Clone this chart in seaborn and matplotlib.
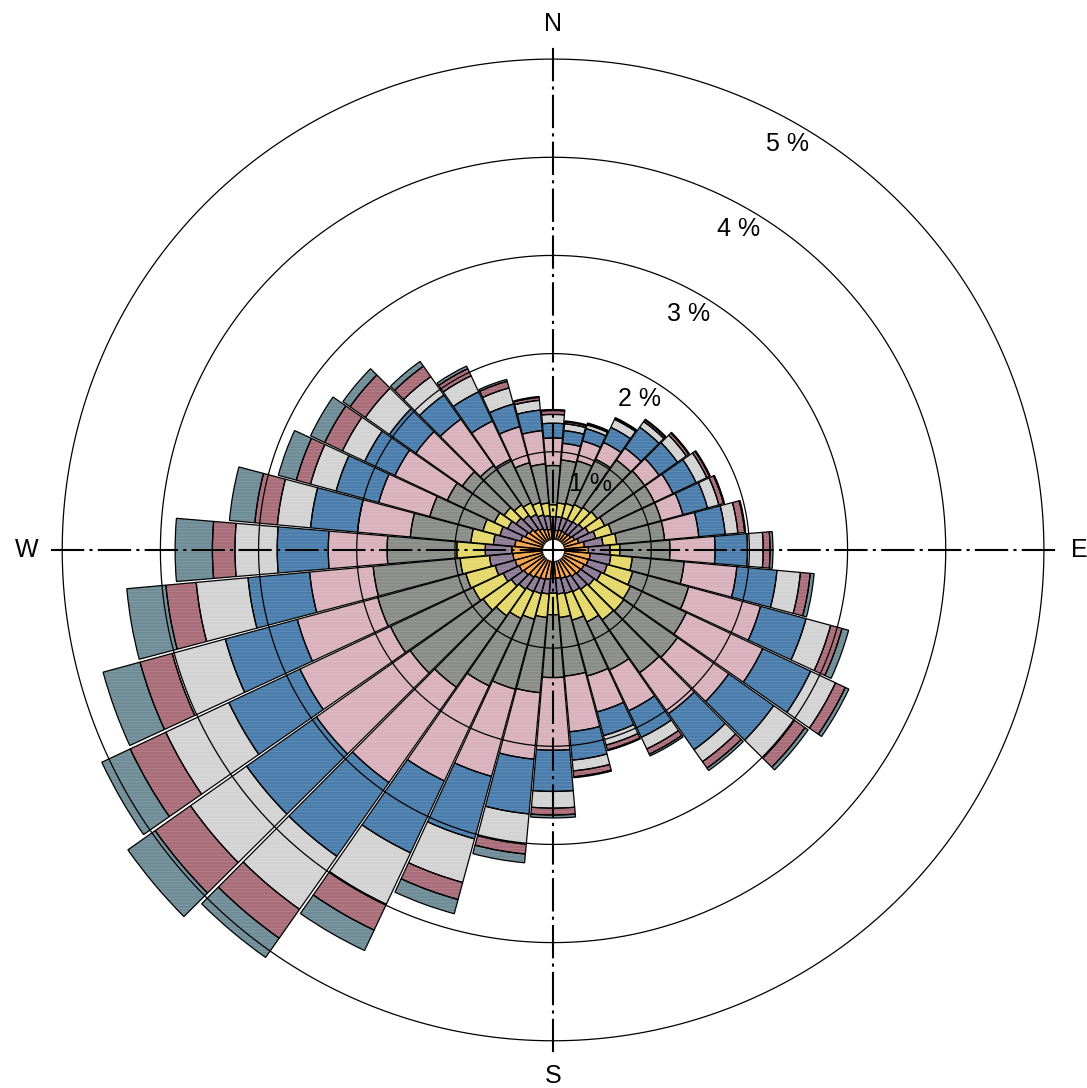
import numpy as np
import matplotlib
matplotlib.use("Agg")
import matplotlib.pyplot as plt
import seaborn as sns

# wind directions (degrees, clockwise from north)
directions = list(range(0, 360, 10))

# cumulative frequency (%) per direction, speed classes from calm (inner) to strong (outer)
cum_c1 = [0.20, 0.20, 0.21, 0.21, 0.21, 0.22, 0.24, 0.27, 0.32, 0.36, 0.38, 0.37,
          0.35, 0.34, 0.33, 0.31, 0.30, 0.29, 0.29, 0.30, 0.31, 0.32, 0.34, 0.36,
          0.38, 0.40, 0.41, 0.42, 0.39, 0.34, 0.31, 0.29, 0.26, 0.24, 0.22, 0.21]
cum_c2 = [0.34, 0.34, 0.34, 0.34, 0.35, 0.37, 0.40, 0.45, 0.51, 0.58, 0.59, 0.57,
          0.54, 0.51, 0.49, 0.47, 0.46, 0.45, 0.44, 0.45, 0.46, 0.47, 0.49, 0.52,
          0.56, 0.61, 0.65, 0.69, 0.61, 0.56, 0.51, 0.46, 0.43, 0.40, 0.37, 0.35]
cum_c3 = [0.46, 0.48, 0.49, 0.51, 0.53, 0.55, 0.58, 0.62, 0.65, 0.68, 0.81, 0.84,
          0.87, 0.88, 0.87, 0.81, 0.74, 0.69, 0.66, 0.69, 0.73, 0.77, 0.82, 0.87,
          0.90, 0.92, 0.95, 0.98, 0.84, 0.74, 0.66, 0.61, 0.56, 0.53, 0.50, 0.48]
cum_c4 = [0.86, 0.92, 0.94, 1.02, 1.12, 1.14, 1.14, 1.14, 1.14, 1.19, 1.34, 1.43,
          1.50, 1.55, 1.53, 1.35, 1.33, 1.29, 1.30, 1.46, 1.47, 1.53, 1.71, 1.78,
          1.83, 1.85, 1.84, 1.69, 1.46, 1.30, 1.19, 1.13, 1.05, 1.02, 0.92, 0.88]
cum_c5 = [1.14, 1.09, 1.15, 1.21, 1.27, 1.32, 1.35, 1.37, 1.49, 1.65, 1.88, 2.19,
          2.36, 2.19, 2.04, 1.81, 1.71, 1.86, 2.04, 2.14, 2.39, 2.60, 2.90, 2.95,
          2.85, 2.70, 2.49, 2.29, 2.00, 1.84, 1.78, 1.71, 1.63, 1.45, 1.30, 1.22]
cum_c6 = [1.29, 1.22, 1.28, 1.38, 1.53, 1.55, 1.61, 1.63, 1.76, 1.98, 2.29, 2.67,
          2.90, 2.75, 2.49, 2.11, 1.96, 2.15, 2.46, 2.70, 3.05, 3.41, 3.82, 3.82,
          3.65, 3.46, 3.12, 2.81, 2.48, 2.29, 2.12, 2.04, 1.93, 1.78, 1.54, 1.43]
cum_c7 = [1.38, 1.29, 1.32, 1.47, 1.60, 1.66, 1.73, 1.75, 1.89, 2.14, 2.53, 2.93,
          3.18, 3.01, 2.64, 2.24, 2.06, 2.26, 2.63, 3.01, 3.51, 3.99, 4.48, 4.52,
          4.36, 4.02, 3.65, 3.24, 2.82, 2.56, 2.37, 2.34, 2.16, 1.96, 1.71, 1.53]
cum_c8 = [1.42, 1.31, 1.33, 1.48, 1.62, 1.69, 1.76, 1.80, 1.96, 2.21, 2.63, 3.05,
          3.29, 3.14, 2.72, 2.30, 2.11, 2.32, 2.70, 3.11, 3.69, 4.28, 4.84, 4.96,
          4.76, 4.36, 3.96, 3.47, 3.05, 2.71, 2.57, 2.53, 2.29, 2.04, 1.78, 1.56]
cum_c9 = [1.43, 1.32, 1.34, 1.49, 1.63, 1.70, 1.77, 1.81, 1.97, 2.24, 2.67, 3.12,
          3.33, 3.18, 2.75, 2.32, 2.12, 2.33, 2.73, 3.20, 3.84, 4.51, 5.08, 5.30,
          5.08, 4.75, 4.36, 3.85, 3.31, 2.90, 2.73, 2.62, 2.35, 2.07, 1.80, 1.57]

ring_values = [1, 2, 3, 4, 5]
ring_labels = ["1 %", "2 %", "3 %", "4 %", "5 %"]
compass = [("N", 0), ("E", 90), ("S", 180), ("W", 270)]

class_colors = ["#F4A24C", "#8D7C95", "#E4D86A", "#8A8C88", "#D8B1BD",
                "#4B7DAC", "#D3D3D3", "#A96D79", "#6F8C97"]

sns.set_theme(style="white")
plt.rcParams["font.family"] = ["Liberation Sans", "DejaVu Sans"]
plt.rcParams["hatch.linewidth"] = 0.5

rmax = 5.45
fig = plt.figure(figsize=(10.87, 10.88), dpi=100)
ax = fig.add_axes([0.0166, 0.0028, 0.9844, 0.9835], projection="polar")
ax.set_theta_zero_location("N")
ax.set_theta_direction(-1)

theta = np.deg2rad(directions)
width = np.deg2rad(9.6)
cums = [np.zeros(len(directions))] + [np.array(c) for c in
        [cum_c1, cum_c2, cum_c3, cum_c4, cum_c5, cum_c6, cum_c7, cum_c8, cum_c9]]

for i, col in enumerate(class_colors):
    bottom = cums[i]
    height = cums[i + 1] - cums[i]
    ax.bar(theta, height, width=width, bottom=bottom, color=col,
           edgecolor=(1, 1, 1, 0.16), linewidth=0, hatch="-----", zorder=2)
    ax.bar(theta, height, width=width, bottom=bottom, fill=False,
           edgecolor="black", linewidth=0.9, zorder=3)

# white hub
th = np.linspace(0, 2 * np.pi, 721)
ax.fill_between(th, 0, 0.1, color="white", zorder=4)

# range rings
for r in ring_values:
    ax.plot(th, np.full_like(th, r), color="black", lw=0.9, zorder=5)

# compass axes
for name, ang in compass:
    a = np.deg2rad(ang)
    ax.plot([a, a], [0, 5.15], color="black", lw=1.5,
            ls=(0, (16, 2.5, 1.5, 2.5)), zorder=6)
    ax.text(a, 5.36, name, ha="center", va="center", fontsize=18,
            color="black", zorder=7)

for r, lab in zip(ring_values, ring_labels):
    ax.text(np.deg2rad(30), r - 0.23, lab, ha="center", va="center",
            fontsize=18, color="black", zorder=7)

ax.set_ylim(0, rmax)
ax.set_xticks([])
ax.set_yticks([])
ax.grid(False)
ax.spines["polar"].set_visible(False)
ax.set_facecolor("none")

fig.savefig("out.png", dpi=100, facecolor="white")
